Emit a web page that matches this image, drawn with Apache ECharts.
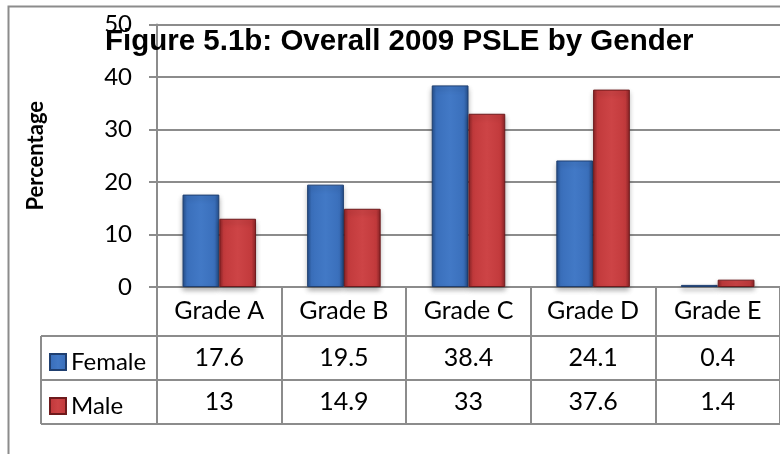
<!DOCTYPE html>
<html>
<head>
<meta charset="utf-8">
<script src="https://cdn.jsdelivr.net/npm/echarts@6/dist/echarts.min.js"></script>
<style>
  html, body { margin: 0; padding: 0; background: #fff; }
  #chart { width: 780px; height: 454px; }
</style>
</head>
<body>
<div id="chart"></div>
<script>
const categories = ['Grade A', 'Grade B', 'Grade C', 'Grade D', 'Grade E']
const female = [17.6, 19.5, 38.4, 24.1, 0.4]
const male = [13, 14.9, 33, 37.6, 1.4]
const yTicks = { min: 0, max: 50, interval: 10 }

const lineGray = '#8c8c8c'
const labelFont = 'Lato, "Open Sans", sans-serif'

function barGradient(dark, mid, light) {
  return new echarts.graphic.LinearGradient(0, 0, 1, 0, [
    { offset: 0, color: dark },
    { offset: 0.12, color: mid },
    { offset: 0.5, color: light },
    { offset: 0.88, color: mid },
    { offset: 1, color: dark },
  ])
}

const blue = barGradient('#254f8c', '#3a6fbb', '#4279c6')
const red = barGradient('#8a2326', '#c23a3c', '#cd4446')

// label distance below the x axis for each table row (category row, female row, male row)
const rowMargins = [24, 71, 115]

function tableAxis(margin, formatter, showTick) {
  return {
    type: 'category',
    data: categories,
    position: 'bottom',
    axisLine: { show: showTick, lineStyle: { color: lineGray, width: 2 } },
    axisTick: { show: showTick, length: 137, lineStyle: { color: lineGray, width: 2 } },
    axisLabel: {
      margin: margin,
      verticalAlign: 'middle',
      fontSize: 25,
      fontFamily: labelFont,
      color: '#000',
      formatter: formatter,
    },
    splitLine: { show: false },
  }
}

const chart = echarts.init(document.getElementById('chart'), null, { renderer: 'canvas' })

chart.setOption({
  backgroundColor: '#fff',
  animation: false,
  title: {
    text: 'Figure 5.1b: Overall 2009 PSLE by Gender',
    left: 100,
    top: 22,
    z: 10,
    textStyle: { fontFamily: '"Liberation Sans", Arial, sans-serif', fontWeight: 'bold', fontSize: 29.5, color: '#000' },
  },
  legend: {
    orient: 'vertical',
    left: 44,
    top: 345,
    itemWidth: 16,
    itemHeight: 16,
    itemGap: 20,
    icon: 'rect',
    textStyle: { fontSize: 24, fontFamily: labelFont, color: '#000' },
    data: ['Female', 'Male'],
  },
  grid: { left: 157, right: -1, top: 24.5, bottom: 167 },
  xAxis: [
    tableAxis(rowMargins[0], (v) => v, true),
    tableAxis(rowMargins[1], (v, i) => String(female[i]), false),
    tableAxis(rowMargins[2], (v, i) => String(male[i]), false),
  ],
  yAxis: {
    type: 'value',
    min: yTicks.min,
    max: yTicks.max,
    interval: yTicks.interval,
    name: 'Percentage',
    nameLocation: 'middle',
    nameGap: 110,
    nameRotate: 90,
    nameTextStyle: { fontFamily: labelFont, fontWeight: 'bold', fontSize: 22, color: '#000' },
    axisLine: { show: true, lineStyle: { color: lineGray, width: 2 } },
    axisTick: { show: true, length: 8, lineStyle: { color: lineGray, width: 2 } },
    axisLabel: { margin: 25, fontSize: 24, fontFamily: labelFont, color: '#000' },
    splitLine: { lineStyle: { color: lineGray, width: 2 } },
  },
  series: [
    {
      name: 'Female',
      type: 'bar',
      xAxisIndex: 0,
      data: female,
      barGap: '0%',
      barCategoryGap: '41%',
      itemStyle: {
        color: blue,
        borderColor: '#1f3f70',
        borderWidth: 1,
        shadowColor: 'rgba(0,0,0,0.3)',
        shadowBlur: 5,
        shadowOffsetY: 3,
      },
    },
    {
      name: 'Male',
      type: 'bar',
      xAxisIndex: 0,
      data: male,
      itemStyle: {
        color: red,
        borderColor: '#6e1a1c',
        borderWidth: 1,
        shadowColor: 'rgba(0,0,0,0.3)',
        shadowBlur: 5,
        shadowOffsetY: 3,
      },
    },
  ],
  graphic: [
    // outer chart frame
    { type: 'rect', shape: { x: 8.5, y: 6.5, width: 790, height: 470 }, style: { fill: null, stroke: lineGray, lineWidth: 2 } },
    // table horizontal rules
    { type: 'line', shape: { x1: 41, y1: 336, x2: 781, y2: 336 }, style: { stroke: lineGray, lineWidth: 2 } },
    { type: 'line', shape: { x1: 41, y1: 380, x2: 781, y2: 380 }, style: { stroke: lineGray, lineWidth: 2 } },
    { type: 'line', shape: { x1: 41, y1: 424, x2: 781, y2: 424 }, style: { stroke: lineGray, lineWidth: 2 } },
    // legend column left edge
    { type: 'line', shape: { x1: 41, y1: 336, x2: 41, y2: 424 }, style: { stroke: lineGray, lineWidth: 2 } },
  ],
})
</script>
</body>
</html>
